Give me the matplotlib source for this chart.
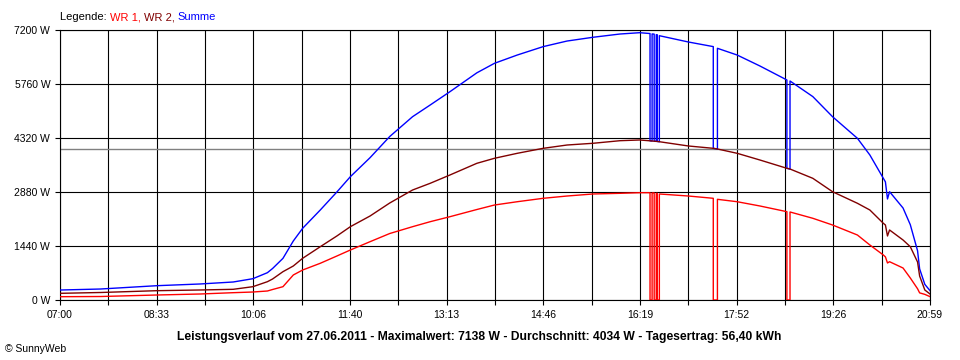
import numpy as np
import matplotlib
matplotlib.use("Agg")
import matplotlib.pyplot as plt

plt.rcParams['font.family'] = ['Liberation Sans', 'DejaVu Sans']

# readings (time of day, watts)
times = ["07:00", "07:39", "08:33", "09:15", "09:47", "10:06", "10:20", "10:25", "10:35", "10:45",
         "10:54", "11:11", "11:27", "11:40", "11:59", "12:18", "12:40", "12:57", "13:16", "13:42",
         "13:59", "14:21", "14:46", "15:09", "15:34", "16:00", "16:19",
         "16:29", "16:29", "16:31", "16:31", "16:33", "16:33", "16:35", "16:35", "16:36", "16:36",
         "16:38", "16:38", "17:06", "17:30", "17:30", "17:34", "17:34", "17:53", "18:15",
         "18:41", "18:41", "18:44", "18:44", "19:06", "19:25", "19:49", "20:01", "20:14", "20:16",
         "20:18", "20:20", "20:33", "20:40", "20:47", "20:49", "20:54", "20:59"]

wr1 = [88, 93, 133, 160, 195, 213, 240, 280, 355, 667,
       800, 979, 1173, 1333, 1555, 1773, 1955, 2088, 2221, 2413,
       2533, 2621, 2712, 2773, 2827, 2845, 2861,
       2861, 0, 0, 2855, 2855, 0, 0, 2845, 2845, 0,
       0, 2827, 2773, 2712, 0, 0, 2685, 2621, 2507,
       2355, 0, 0, 2347, 2179, 2000, 1733, 1467, 1200, 1150,
       987, 1021, 853, 587, 300, 190, 150, 90]

wr2 = [178, 200, 248, 267, 285, 355, 488, 560, 755, 907,
       1112, 1421, 1707, 1955, 2240, 2587, 2933, 3112, 3333, 3645,
       3779, 3912, 4045, 4133, 4179, 4248, 4267,
       4245, 4245, 4240, 4240, 4235, 4235, 4230, 4230, 4228, 4228,
       4221, 4221, 4107, 4045, 4045, 4027, 4027, 3912, 3733,
       3512, 3512, 3493, 3493, 3245, 2888, 2579, 2400, 2045, 2000,
       1707, 1867, 1600, 1421, 1013, 640, 267, 160]

average = 4034
y_ticks = [0, 1440, 2880, 4320, 5760, 7200]
x_labels = ["07:00", "08:33", "10:06", "11:40", "13:13", "14:46", "16:19", "17:52", "19:26", "20:59"]
title = ("Leistungsverlauf vom 27.06.2011 - Maximalwert: 7138 W - "
         "Durchschnitt: 4034 W - Tagesertrag: 56,40 kWh")
legend_parts = [("Legende: ", "black"), ("WR 1, ", "#ff0000"),
                ("WR 2, ", "#800000"), ("Summe", "#0000ff")]


def to_min(t):
    h, m = t.split(":")
    return (int(h) - 7) * 60 + int(m)


x = np.array([to_min(t) for t in times])
wr1 = np.array(wr1)
wr2 = np.array(wr2)
summe = wr1 + wr2

fig = plt.figure(figsize=(9.6, 3.6), dpi=100)
ax = fig.add_axes([60 / 960, 1 - 300 / 360, 870 / 960, 270 / 360])

end = to_min(x_labels[-1])
xt = np.linspace(0, end, 19)
ax.set_xlim(0, end)
ax.set_ylim(0, 7200)
ax.set_xticks(xt)
ax.set_xticklabels([x_labels[i // 2] if i % 2 == 0 else "" for i in range(19)])
ax.set_yticks(y_ticks)
ax.set_yticklabels([f"{v} W" for v in y_ticks])
ax.tick_params(length=3.6, width=0.8, color="black", labelsize=7.5, pad=3.5)
ax.grid(True, color="black", linewidth=0.8)
for s in ax.spines.values():
    s.set_linewidth(0.8)

ax.axhline(average, color="#808080", linewidth=1.0, zorder=2)
ax.plot(x, summe, color="#0000ff", linewidth=1.0, zorder=3)
ax.plot(x, wr2, color="#800000", linewidth=1.0, zorder=3)
ax.plot(x, wr1, color="#ff0000", linewidth=1.0, zorder=3)

# legend line: pieces laid out left to right on one baseline
renderer = fig.canvas.get_renderer()
xpos = 60
for piece, c in legend_parts:
    t = fig.text(xpos / 960, 1 - 17 / 360, piece, fontsize=8, color=c,
                 va="baseline", ha="left")
    t.set_y(1 - 20 / 360)
    xpos += t.get_window_extent(renderer).width

fig.text(479 / 960, 1 - 337 / 360, title, fontsize=8.7, fontweight="bold", ha="center", va="center")
fig.text(5 / 960, 1 - 349 / 360, "\u00a9 SunnyWeb", fontsize=7.5, ha="left", va="center")

fig.savefig("out.png", dpi=100)
